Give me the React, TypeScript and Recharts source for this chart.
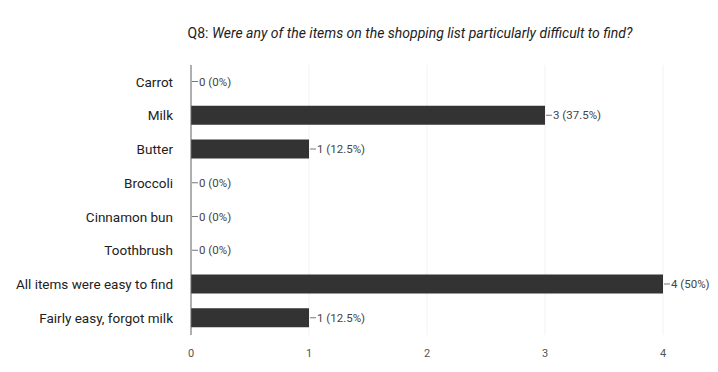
import React from "react";
import { BarChart, Bar, XAxis, YAxis, CartesianGrid } from "recharts";

// Q8 survey answers — horizontal count bars with "n (pct)" labels.

const categories = [
  "Carrot",
  "Milk",
  "Butter",
  "Broccoli",
  "Cinnamon bun",
  "Toothbrush",
  "All items were easy to find",
  "Fairly easy, forgot milk",
];
const counts = [0, 3, 1, 0, 0, 0, 4, 1];
const pctLabels = ["0%", "37.5%", "12.5%", "0%", "0%", "0%", "50%", "12.5%"];
const xTicks = [0, 1, 2, 3, 4];

const data = categories.map((k, i) => ({ k, n: counts[i], lbl: `${counts[i]} (${pctLabels[i]})` }));

const font = "Roboto, 'Liberation Sans', sans-serif";

// bar + leader line + label drawn together so zero-length bars still get a label
function BarWithLabel(props: any) {
  const { x, y, width, height, payload, fill } = props;
  const w = Math.max(0, Number(width) || 0);
  const x0 = Number(x) + w;
  const cy = Number(y) + Number(height) / 2;
  return (
    <g>
      {w > 0 && <rect x={x} y={y} width={w} height={height} fill={fill} />}
      <line x1={x0 + 1} x2={x0 + 7} y1={cy} y2={cy} stroke="#777" strokeWidth={1} />
      <text x={x0 + 8} y={cy} dy="0.35em" fill="#444" fontSize={11.5} fontFamily={font}>{payload?.lbl}</text>
    </g>
  );
}

export default function App() {
  if (typeof document !== "undefined") document.body.style.margin = "0";
  return (
    <div style={{ position: "relative", width: 718, height: 372, background: "#fff", fontFamily: font }}>
      <div style={{ position: "absolute", top: 25, left: 180, width: 460, textAlign: "center", fontSize: 14, color: "#222", whiteSpace: "nowrap" }}>
        Q8: <i>Were any of the items on the shopping list particularly difficult to find?</i>
      </div>
      <BarChart width={718} height={372} data={data} layout="vertical"
        margin={{ top: 65, right: 55, left: 0, bottom: 0 }} barCategoryGap={7}>
        <CartesianGrid horizontal={false} stroke="#f2f2f2" />
        <XAxis type="number" domain={[0, 4]} ticks={xTicks} height={37} axisLine={false} tickLine={false}
          tickMargin={8} tick={{ fill: "#555", fontSize: 11, fontFamily: font }} />
        <YAxis type="category" dataKey="k" width={191} axisLine={{ stroke: "#666" }} tickLine={false}
          tickMargin={12} tick={{ fill: "#222", fontSize: 13.5, fontFamily: font }} interval={0} />
        <Bar dataKey="n" fill="#333333" barSize={19} isAnimationActive={false} shape={<BarWithLabel />} />
      </BarChart>
    </div>
  );
}
